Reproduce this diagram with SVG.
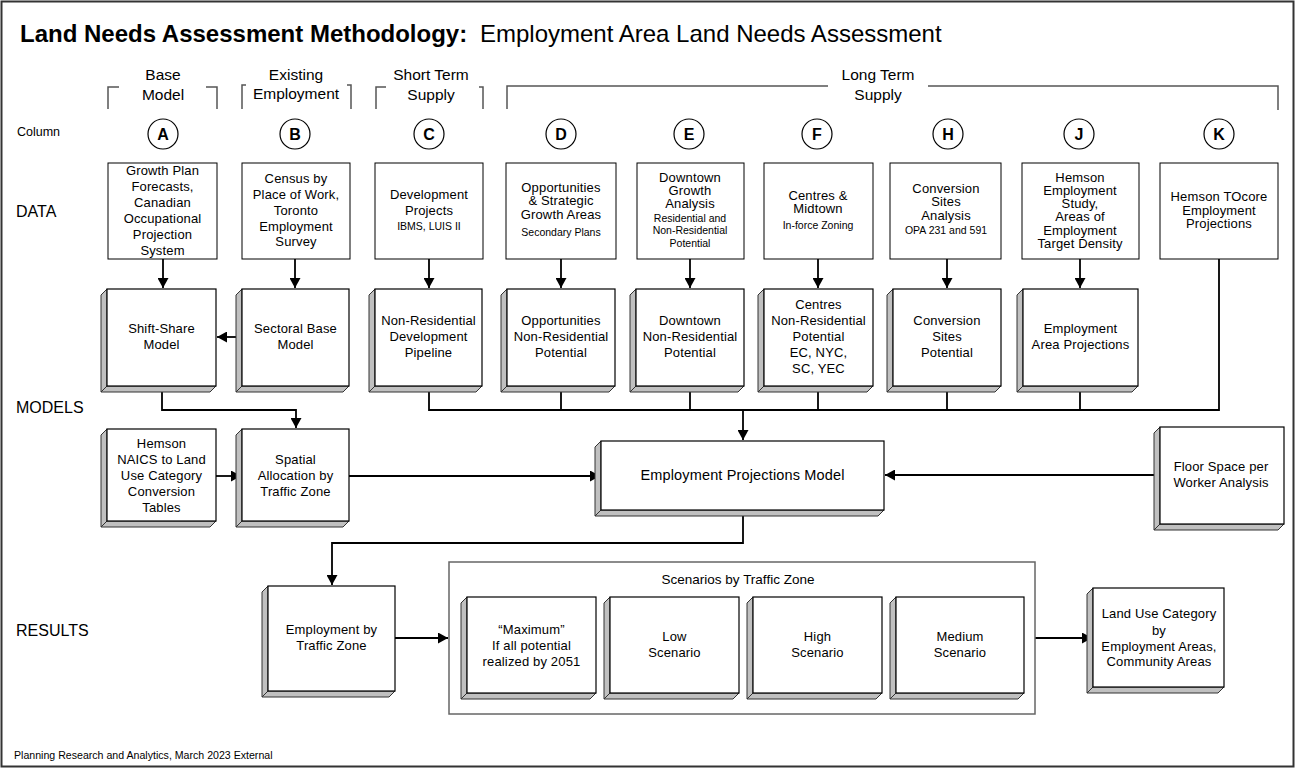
<svg xmlns="http://www.w3.org/2000/svg" width="1296" height="769" viewBox="0 0 1296 769">
<style>
.bg{fill:#fff}
.frame{fill:none;stroke:#333;stroke-width:2}
.box{fill:#fff;stroke:#000;stroke-width:1}
.front{fill:#fff;stroke:#000;stroke-width:1.2}
.side{fill:#c0c0c0;stroke:#333;stroke-width:1}
.cont{fill:#fff;stroke:#666;stroke-width:1.5}
.br{fill:none;stroke:#555;stroke-width:1.5}
.circ{fill:#fff;stroke:#000;stroke-width:1.2}
text{font-family:"Liberation Sans",Arial,sans-serif;fill:#000}
.t{font-size:13px;text-anchor:middle;letter-spacing:0.15px}
.ts{font-size:10.5px;text-anchor:middle}
.h{font-size:15.5px;text-anchor:middle}
.lab{font-size:16px}
.cl{font-size:16px;font-weight:bold;text-anchor:middle}
.c{fill:none;stroke:#000;stroke-width:1.8}
</style>
<defs>
<marker id="ar" markerWidth="11" markerHeight="11" refX="10" refY="5.5" orient="auto" markerUnits="userSpaceOnUse">
<path d="M0,0 L10,5.5 L0,11 z" fill="#000"/>
</marker>
</defs>
<rect class="bg" x="0" y="0" width="1296" height="769"/>
<rect class="frame" x="1.5" y="1.5" width="1292" height="765"/>

<g id="title">
<text x="20" y="42" style="font-size:24px;font-weight:bold">Land Needs Assessment Methodology:</text>
<text x="480" y="42" style="font-size:24px">Employment Area Land Needs Assessment</text>
</g>

<g id="headers">
<text class="h" x="163" y="80">Base</text>
<text class="h" x="163" y="100">Model</text>
<path class="br" d="M108,109 V87 H119 M206,87 H217 V109"/>
<text class="h" x="296" y="80">Existing</text>
<text class="h" x="296" y="99">Employment</text>
<path class="br" d="M242,109 V85 H246 M347,85 H351 V109"/>
<text class="h" x="431" y="80">Short Term</text>
<text class="h" x="431" y="100">Supply</text>
<path class="br" d="M376,109 V87 H386 M479,87 H483 V109"/>
<text class="h" x="878" y="80">Long Term</text>
<text class="h" x="878" y="100">Supply</text>
<path class="br" d="M507,109 V86 H828 M928,86 H1278 V110"/>
</g>

<g id="side-labels">
<text x="17" y="136" style="font-size:12.5px">Column</text>
<text class="lab" x="16" y="217">DATA</text>
<text class="lab" x="16" y="413">MODELS</text>
<text class="lab" x="16" y="636">RESULTS</text>
<text x="14" y="759" style="font-size:10.6px">Planning Research and Analytics, March 2023 External</text>
</g>

<g id="columns">
<circle class="circ" cx="163" cy="134" r="15"/><text class="cl" x="163" y="140">A</text>
<circle class="circ" cx="295" cy="134" r="15"/><text class="cl" x="295" y="140">B</text>
<circle class="circ" cx="429" cy="134" r="15"/><text class="cl" x="429" y="140">C</text>
<circle class="circ" cx="561" cy="134" r="15"/><text class="cl" x="561" y="140">D</text>
<circle class="circ" cx="689" cy="134" r="15"/><text class="cl" x="689" y="140">E</text>
<circle class="circ" cx="817" cy="134" r="15"/><text class="cl" x="817" y="140">F</text>
<circle class="circ" cx="948" cy="134" r="15"/><text class="cl" x="948" y="140">H</text>
<circle class="circ" cx="1079" cy="134" r="15"/><text class="cl" x="1079" y="140">J</text>
<circle class="circ" cx="1219" cy="134" r="15"/><text class="cl" x="1219" y="140">K</text>
</g>

<g id="connectors">
<path class="c" marker-end="url(#ar)" d="M163,259 V288"/>
<path class="c" marker-end="url(#ar)" d="M295,259 V288"/>
<path class="c" marker-end="url(#ar)" d="M429,259 V288"/>
<path class="c" marker-end="url(#ar)" d="M561,259 V288"/>
<path class="c" marker-end="url(#ar)" d="M690,259 V288"/>
<path class="c" marker-end="url(#ar)" d="M818,259 V288"/>
<path class="c" marker-end="url(#ar)" d="M947,259 V288"/>
<path class="c" marker-end="url(#ar)" d="M1080,259 V288"/>
<path class="c" marker-end="url(#ar)" d="M237,337 H217"/>
<path class="c" marker-end="url(#ar)" d="M162,386 V410 H296 V428"/>
<path class="c" marker-end="url(#ar)" d="M216,476 H241"/>
<path class="c" d="M429,386 V410 H1219 V259"/>
<path class="c" d="M561,386 V410 M690,386 V410 M818,386 V410 M947,386 V410 M1080,386 V410"/>
<path class="c" marker-end="url(#ar)" d="M743,410 V440"/>
<path class="c" marker-end="url(#ar)" d="M349,476 H600"/>
<path class="c" marker-end="url(#ar)" d="M1155,475 H885"/>
<path class="c" marker-end="url(#ar)" d="M743,510 V543 H332 V585"/>
<path class="c" marker-end="url(#ar)" d="M395,638 H448"/>
<path class="c" marker-end="url(#ar)" d="M1035,638 H1092"/>
</g>

<g id="data-A"><rect class="box" x="108" y="163" width="109" height="96"/>
<text class="t" x="162.5" y="175">Growth Plan</text><text class="t" x="162.5" y="191">Forecasts,</text><text class="t" x="162.5" y="207">Canadian</text><text class="t" x="162.5" y="223">Occupational</text><text class="t" x="162.5" y="239">Projection</text><text class="t" x="162.5" y="255">System</text></g>
<g id="data-B"><rect class="box" x="242" y="163" width="108" height="96"/>
<text class="t" x="296" y="183">Census by</text><text class="t" x="296" y="199">Place of Work,</text><text class="t" x="296" y="215">Toronto</text><text class="t" x="296" y="231">Employment</text><text class="t" x="296" y="246">Survey</text></g>
<g id="data-C"><rect class="box" x="375" y="163" width="108" height="96"/>
<text class="t" x="429" y="199">Development</text><text class="t" x="429" y="215">Projects</text><text class="ts" x="429" y="230">IBMS, LUIS II</text></g>
<g id="data-D"><rect class="box" x="506" y="163" width="110" height="96"/>
<text class="t" x="561" y="192">Opportunities</text><text class="t" x="561" y="205">&amp; Strategic</text><text class="t" x="561" y="219">Growth Areas</text><text class="ts" x="561" y="236">Secondary Plans</text></g>
<g id="data-E"><rect class="box" x="637" y="163" width="107" height="96"/>
<text class="t" x="690" y="182">Downtown</text><text class="t" x="690" y="195">Growth</text><text class="t" x="690" y="208">Analysis</text><text class="ts" x="690" y="222">Residential and</text><text class="ts" x="690" y="234">Non-Residential</text><text class="ts" x="690" y="247">Potential</text></g>
<g id="data-F"><rect class="box" x="764" y="163" width="109" height="96"/>
<text class="t" x="818" y="200">Centres &amp;</text><text class="t" x="818" y="213">Midtown</text><text class="ts" x="818" y="229">In-force Zoning</text></g>
<g id="data-H"><rect class="box" x="890" y="163" width="111" height="96"/>
<text class="t" x="946" y="193">Conversion</text><text class="t" x="946" y="206">Sites</text><text class="t" x="946" y="220">Analysis</text><text class="ts" x="946" y="234">OPA 231 and 591</text></g>
<g id="data-J"><rect class="box" x="1022" y="163" width="117" height="96"/>
<text class="t" x="1080" y="182">Hemson</text><text class="t" x="1080" y="195">Employment</text><text class="t" x="1080" y="208">Study,</text><text class="t" x="1080" y="221">Areas of</text><text class="t" x="1080" y="235">Employment</text><text class="t" x="1080" y="248">Target Density</text></g>
<g id="data-K"><rect class="box" x="1160" y="163" width="118" height="96"/>
<text class="t" x="1219" y="201">Hemson TOcore</text><text class="t" x="1219" y="215">Employment</text><text class="t" x="1219" y="228">Projections</text></g>

<g id="model-shiftshare">
<polygon class="side" points="101,295 107,289 107,386 101,392"/><polygon class="side" points="101,392 107,386 216,386 210,392"/>
<rect class="front" x="107" y="289" width="109" height="97"/>
<text class="t" x="161.5" y="333">Shift-Share</text><text class="t" x="161.5" y="349">Model</text></g>
<g id="model-sectoral">
<polygon class="side" points="236,295 242,289 242,386 236,392"/><polygon class="side" points="236,392 242,386 349,386 343,392"/>
<rect class="front" x="242" y="289" width="107" height="97"/>
<text class="t" x="295.5" y="333">Sectoral Base</text><text class="t" x="295.5" y="349">Model</text></g>
<g id="model-pipeline">
<polygon class="side" points="369,295 375,289 375,386 369,392"/><polygon class="side" points="369,392 375,386 482,386 476,392"/>
<rect class="front" x="375" y="289" width="107" height="97"/>
<text class="t" x="428.5" y="325">Non-Residential</text><text class="t" x="428.5" y="341">Development</text><text class="t" x="428.5" y="357">Pipeline</text></g>
<g id="model-opportunities">
<polygon class="side" points="501,295 507,289 507,386 501,392"/><polygon class="side" points="501,392 507,386 615,386 609,392"/>
<rect class="front" x="507" y="289" width="108" height="97"/>
<text class="t" x="561" y="325">Opportunities</text><text class="t" x="561" y="341">Non-Residential</text><text class="t" x="561" y="357">Potential</text></g>
<g id="model-downtown">
<polygon class="side" points="630,295 636,289 636,386 630,392"/><polygon class="side" points="630,392 636,386 744,386 738,392"/>
<rect class="front" x="636" y="289" width="108" height="97"/>
<text class="t" x="690" y="325">Downtown</text><text class="t" x="690" y="341">Non-Residential</text><text class="t" x="690" y="357">Potential</text></g>
<g id="model-centres">
<polygon class="side" points="758,295 764,289 764,386 758,392"/><polygon class="side" points="758,392 764,386 873,386 867,392"/>
<rect class="front" x="764" y="289" width="109" height="97"/>
<text class="t" x="818.5" y="309">Centres</text><text class="t" x="818.5" y="325">Non-Residential</text><text class="t" x="818.5" y="341">Potential</text><text class="t" x="818.5" y="357">EC, NYC,</text><text class="t" x="818.5" y="373">SC, YEC</text></g>
<g id="model-conversion">
<polygon class="side" points="887,295 893,289 893,386 887,392"/><polygon class="side" points="887,392 893,386 1001,386 995,392"/>
<rect class="front" x="893" y="289" width="108" height="97"/>
<text class="t" x="947" y="325">Conversion</text><text class="t" x="947" y="341">Sites</text><text class="t" x="947" y="357">Potential</text></g>
<g id="model-emparea">
<polygon class="side" points="1017,295 1023,289 1023,386 1017,392"/><polygon class="side" points="1017,392 1023,386 1138,386 1132,392"/>
<rect class="front" x="1023" y="289" width="115" height="97"/>
<text class="t" x="1080.5" y="333">Employment</text><text class="t" x="1080.5" y="349">Area Projections</text></g>

<g id="model-naics">
<polygon class="side" points="101,435 107,429 107,521 101,527"/><polygon class="side" points="101,527 107,521 216,521 210,527"/>
<rect class="front" x="107" y="429" width="109" height="92"/>
<text class="t" x="161.5" y="448">Hemson</text><text class="t" x="161.5" y="464">NAICS to Land</text><text class="t" x="161.5" y="480">Use Category</text><text class="t" x="161.5" y="496">Conversion</text><text class="t" x="161.5" y="512">Tables</text></g>
<g id="model-spatial">
<polygon class="side" points="236,435 242,429 242,521 236,527"/><polygon class="side" points="236,527 242,521 349,521 343,527"/>
<rect class="front" x="242" y="429" width="107" height="92"/>
<text class="t" x="295.5" y="464">Spatial</text><text class="t" x="295.5" y="480">Allocation by</text><text class="t" x="295.5" y="496">Traffic Zone</text></g>
<g id="model-epm">
<polygon class="side" points="595,447 601,441 601,510 595,516"/><polygon class="side" points="595,516 601,510 884,510 878,516"/>
<rect class="front" x="601" y="441" width="283" height="69"/>
<text x="742.5" y="480" style="font-size:14.5px;text-anchor:middle;letter-spacing:0.15px">Employment Projections Model</text></g>
<g id="model-floorspace">
<polygon class="side" points="1154,433 1160,427 1160,524 1154,530"/><polygon class="side" points="1154,530 1160,524 1284,524 1278,530"/>
<rect class="front" x="1160" y="427" width="124" height="97"/>
<text class="t" x="1221" y="471">Floor Space per</text><text class="t" x="1221" y="487">Worker Analysis</text></g>

<g id="result-etz">
<polygon class="side" points="262,592 268,586 268,691 262,697"/><polygon class="side" points="262,697 268,691 395,691 389,697"/>
<rect class="front" x="268" y="586" width="127" height="105"/>
<text class="t" x="331.5" y="634">Employment by</text><text class="t" x="331.5" y="650">Traffic Zone</text></g>

<g id="scenarios">
<rect class="cont" x="449" y="562" width="586" height="152"/>
<text x="738" y="584" style="font-size:13.5px;text-anchor:middle">Scenarios by Traffic Zone</text>
</g>
<g id="scenario-max">
<polygon class="side" points="461,603 467,597 467,693 461,699"/><polygon class="side" points="461,699 467,693 596,693 590,699"/>
<rect class="front" x="467" y="597" width="129" height="96"/>
<text class="t" x="531.5" y="634">“Maximum”</text><text class="t" x="531.5" y="650">If all potential</text><text class="t" x="531.5" y="666">realized by 2051</text></g>
<g id="scenario-low">
<polygon class="side" points="604,603 610,597 610,693 604,699"/><polygon class="side" points="604,699 610,693 739,693 733,699"/>
<rect class="front" x="610" y="597" width="129" height="96"/>
<text class="t" x="674.5" y="641">Low</text><text class="t" x="674.5" y="657">Scenario</text></g>
<g id="scenario-high">
<polygon class="side" points="747,603 753,597 753,693 747,699"/><polygon class="side" points="747,699 753,693 882,693 876,699"/>
<rect class="front" x="753" y="597" width="129" height="96"/>
<text class="t" x="817.5" y="641">High</text><text class="t" x="817.5" y="657">Scenario</text></g>
<g id="scenario-medium">
<polygon class="side" points="890,603 896,597 896,693 890,699"/><polygon class="side" points="890,699 896,693 1024,693 1018,699"/>
<rect class="front" x="896" y="597" width="128" height="96"/>
<text class="t" x="960" y="641">Medium</text><text class="t" x="960" y="657">Scenario</text></g>
<g id="result-landuse">
<polygon class="side" points="1087,594 1093,588 1093,687 1087,693"/><polygon class="side" points="1087,693 1093,687 1224,687 1218,693"/>
<rect class="front" x="1093" y="588" width="131" height="99"/>
<text class="t" x="1159" y="618">Land Use Category</text><text class="t" x="1159" y="635">by</text><text class="t" x="1159" y="651">Employment Areas,</text><text class="t" x="1159" y="666">Community Areas</text></g>
</svg>
